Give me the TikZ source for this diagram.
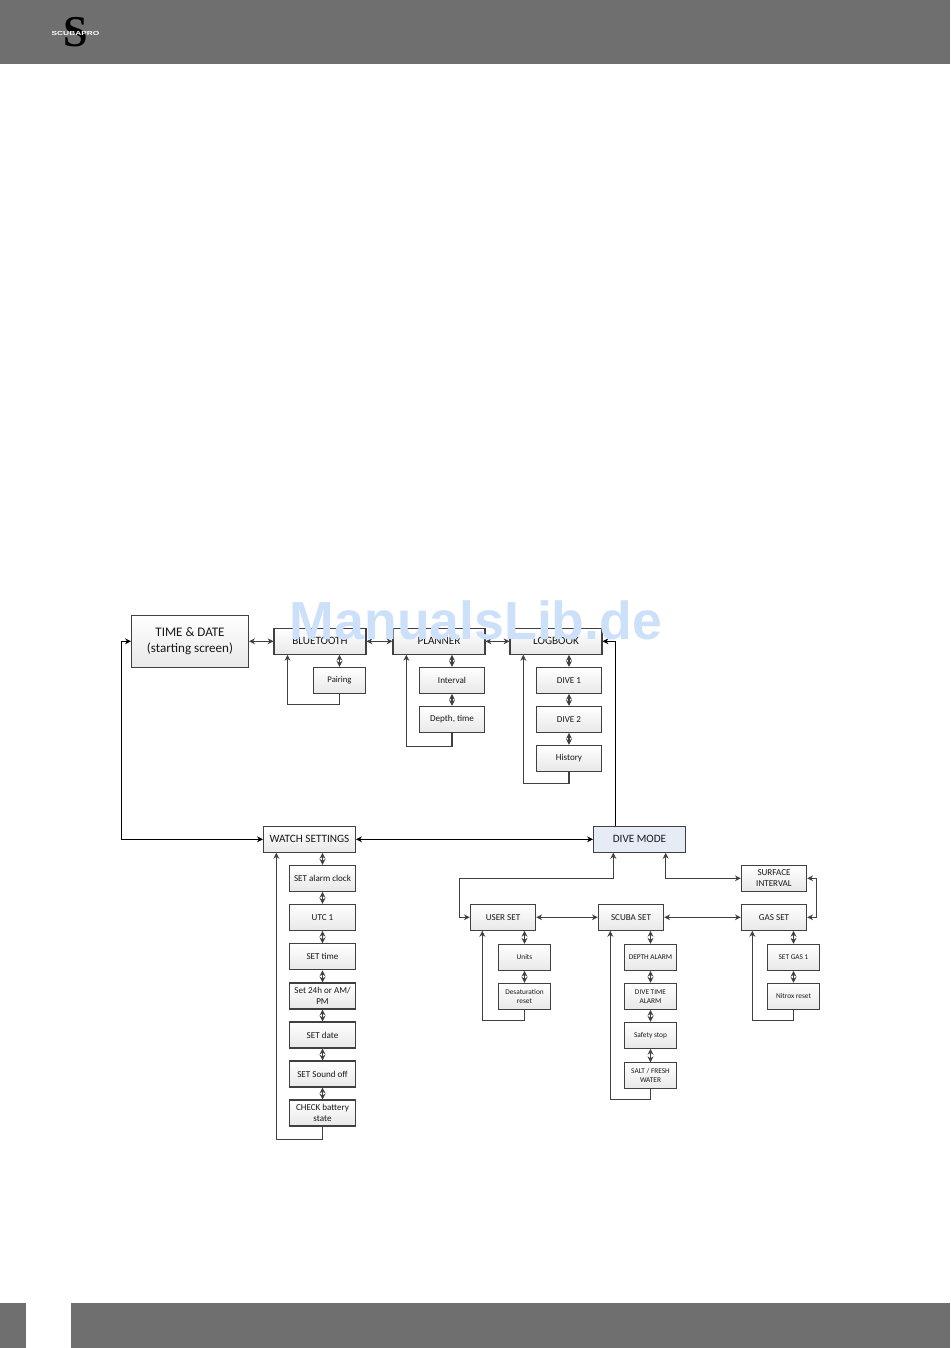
\documentclass[tikz,border=0pt]{standalone}
\usepackage{fontspec}
\usetikzlibrary{arrows.meta}
\setmainfont{Carlito}
\newfontfamily\markfont{Liberation Sans}
\newfontfamily\logofont{Liberation Serif}
\definecolor{bandgray}{HTML}{6F6F6F}
\definecolor{edgegray}{HTML}{404040}
\definecolor{markblue}{HTML}{CCE0FA}
\definecolor{modeblue}{HTML}{E6ECF6}
\begin{document}
\begin{tikzpicture}[
        x=0.75pt, y=-0.75pt,
        >={Stealth[length=4.4pt, width=4.4pt]},
        bigbox/.style={draw=edgegray, line width=0.8pt, rectangle, align=center, top color=white, bottom color=black!9, text=black!90, minimum height=19.5pt, inner sep=0pt},
        mainbox/.style={bigbox, minimum width=69pt, font=\fontsize{8.4}{10}\selectfont},
        modebox/.style={mainbox, top color=modeblue, bottom color=modeblue},
        midbox/.style={bigbox, minimum width=49pt, font=\fontsize{6.8}{8.6}\selectfont},
        subbox/.style={bigbox, minimum width=39.3pt, font=\fontsize{5.5}{6.8}\selectfont},
        arrow/.style={draw=edgegray, line width=0.8pt, ->},
        dblarrow/.style={draw=edgegray, line width=0.8pt, <->},
        mainarrow/.style={draw=black, line width=0.8pt, <->}
    ]
    \useasboundingbox (0,0) rectangle (950,1348);

    \fill[bandgray] (0,0) rectangle (950,64.5);
    \fill[bandgray] (0,1303) rectangle (25.5,1348);
    \fill[bandgray] (70.5,1303) rectangle (950,1348);
    \node[font=\logofont\bfseries\fontsize{33}{33}\selectfont, text=black] (logos) at (75.5,32) {S};
    \node[font=\markfont\bfseries\fontsize{4.4}{5}\selectfont, text=white, xscale=1.42] (logotext) at (75.5,33) {SCUBAPRO};

    \node[mainbox, minimum width=87.8pt, minimum height=39pt, font=\fontsize{9.8}{12}\selectfont] (time) at (190,641.3) {TIME \& DATE\\(starting screen)};
    \node[mainbox] (bluetooth) at (320,641.3) {BLUETOOTH};
    \node[mainbox] (planner) at (439,641.3) {PLANNER};
    \node[mainbox] (logbook) at (556,641.3) {LOGBOOK};
    \node[subbox, font=\fontsize{6.5}{8.6}\selectfont] (pairing) at (339.5,680.3) {Pairing};
    \node[midbox] (interval) at (452,680.3) {Interval};
    \node[midbox] (depth) at (452,719.3) {Depth, time};
    \node[midbox] (dive1) at (569,680.3) {DIVE 1};
    \node[midbox] (dive2) at (569,719.3) {DIVE 2};
    \node[midbox] (history) at (569,758.3) {History};

    \node[mainbox] (watch) at (309.5,839.3) {WATCH SETTINGS};
    \node[modebox] (dive) at (639.5,839.3) {DIVE MODE};
    \node[midbox] (alarm) at (322.5,878.3) {SET alarm clock};
    \node[midbox] (utc) at (322.5,917.3) {UTC 1};
    \node[midbox] (settime) at (322.5,956.8) {SET time};
    \node[midbox] (hours) at (322.5,996) {Set 24h or AM/\\PM};
    \node[midbox] (setdate) at (322.5,1035) {SET date};
    \node[midbox] (sound) at (322.5,1074) {SET Sound off};
    \node[midbox] (battery) at (322.5,1113) {CHECK battery\\state};

    \node[midbox] (surface) at (774,878.3) {SURFACE\\INTERVAL};
    \node[midbox] (userset) at (503,917.3) {USER SET};
    \node[midbox] (scubaset) at (631,917.3) {SCUBA SET};
    \node[midbox] (gasset) at (774,917.3) {GAS SET};
    \node[subbox] (units) at (524.5,957.3) {Units};
    \node[subbox] (desat) at (524.5,996.3) {Desaturation\\reset};
    \node[subbox] (depthalarm) at (650.5,957.3) {DEPTH ALARM};
    \node[subbox] (timealarm) at (650.5,996.3) {DIVE TIME\\ALARM};
    \node[subbox] (safety) at (650.5,1035.3) {Safety stop};
    \node[subbox] (salt) at (650.5,1075.8) {SALT / FRESH\\WATER};
    \node[subbox] (gas1) at (793.5,957.3) {SET GAS 1};
    \node[subbox] (nitrox) at (793.5,996.3) {Nitrox reset};

    \coordinate (leftbus) at (121.7,740);
    \coordinate (btturn) at (287.5,704.5);
    \coordinate (planturn) at (406.3,746.3);
    \coordinate (logturn) at (523.3,783.3);
    \coordinate (watchturn) at (276.3,1139.3);
    \coordinate (userturn) at (482.3,1020.3);
    \coordinate (scubaturn) at (610.3,1099.3);
    \coordinate (gasturn) at (752.3,1020.3);
    \coordinate (upbus) at (615.7,740);
    \coordinate (userbus) at (459.3,878.3);
    \coordinate (userup) at (613.3,878.3);
    \coordinate (surfup) at (665.7,878.3);
    \coordinate (rightbus) at (816.3,898);

    \draw[dblarrow] (time) -- (bluetooth);
    \draw[dblarrow] (bluetooth) -- (planner);
    \draw[dblarrow] (planner) -- (logbook);
    \draw[dblarrow] (userset) -- (scubaset);
    \draw[dblarrow] (scubaset) -- (gasset);
    \draw[mainarrow] (watch) -- (dive);
    \draw[mainarrow] (time.west) -| (leftbus) |- (watch.west);
    \draw[draw=black, line width=0.8pt, ->] (dive.north -| upbus) -- (upbus) |- (logbook.east);

    \draw[dblarrow] (pairing.north) -- (pairing.north |- bluetooth.south);
    \draw[dblarrow] (interval.north) -- (interval.north |- planner.south);
    \draw[dblarrow] (depth.north) -- (interval.south);
    \draw[dblarrow] (dive1.north) -- (dive1.north |- logbook.south);
    \draw[dblarrow] (dive2.north) -- (dive1.south);
    \draw[dblarrow] (history.north) -- (dive2.south);

    \draw[dblarrow] (alarm.north) -- (alarm.north |- watch.south);
    \draw[dblarrow] (utc.north) -- (alarm.south);
    \draw[dblarrow] (settime.north) -- (utc.south);
    \draw[dblarrow] (hours.north) -- (settime.south);
    \draw[dblarrow] (setdate.north) -- (hours.south);
    \draw[dblarrow] (sound.north) -- (setdate.south);
    \draw[dblarrow] (battery.north) -- (sound.south);

    \draw[dblarrow] (units.north) -- (units.north |- userset.south);
    \draw[dblarrow] (desat.north) -- (units.south);
    \draw[dblarrow] (depthalarm.north) -- (depthalarm.north |- scubaset.south);
    \draw[dblarrow] (timealarm.north) -- (depthalarm.south);
    \draw[dblarrow] (safety.north) -- (timealarm.south);
    \draw[dblarrow] (salt.north) -- (safety.south);
    \draw[dblarrow] (gas1.north) -- (gas1.north |- gasset.south);
    \draw[dblarrow] (nitrox.north) -- (gas1.south);

    \draw[arrow] (pairing.south) |- (btturn) -- (btturn |- bluetooth.south);
    \draw[arrow] (depth.south) |- (planturn) -- (planturn |- planner.south);
    \draw[arrow] (history.south) |- (logturn) -- (logturn |- logbook.south);
    \draw[arrow] (battery.south) |- (watchturn) -- (watchturn |- watch.south);
    \draw[arrow] (desat.south) |- (userturn) -- (userturn |- userset.south);
    \draw[arrow] (salt.south) |- (scubaturn) -- (scubaturn |- scubaset.south);
    \draw[arrow] (nitrox.south) |- (gasturn) -- (gasturn |- gasset.south);

    \draw[dblarrow] (userup |- dive.south) -- (userup) -- (userbus) |- (userset.west);
    \draw[dblarrow] (surfup |- dive.south) |- (surface.west);
    \draw[dblarrow] (surface.east) -| (rightbus) |- (gasset.east);

    \node[font=\markfont\bfseries\fontsize{40.2}{41}\selectfont, text=markblue, inner sep=0pt] (watermark) at (476,620) {ManualsLib.de};
\end{tikzpicture}
\end{document}
